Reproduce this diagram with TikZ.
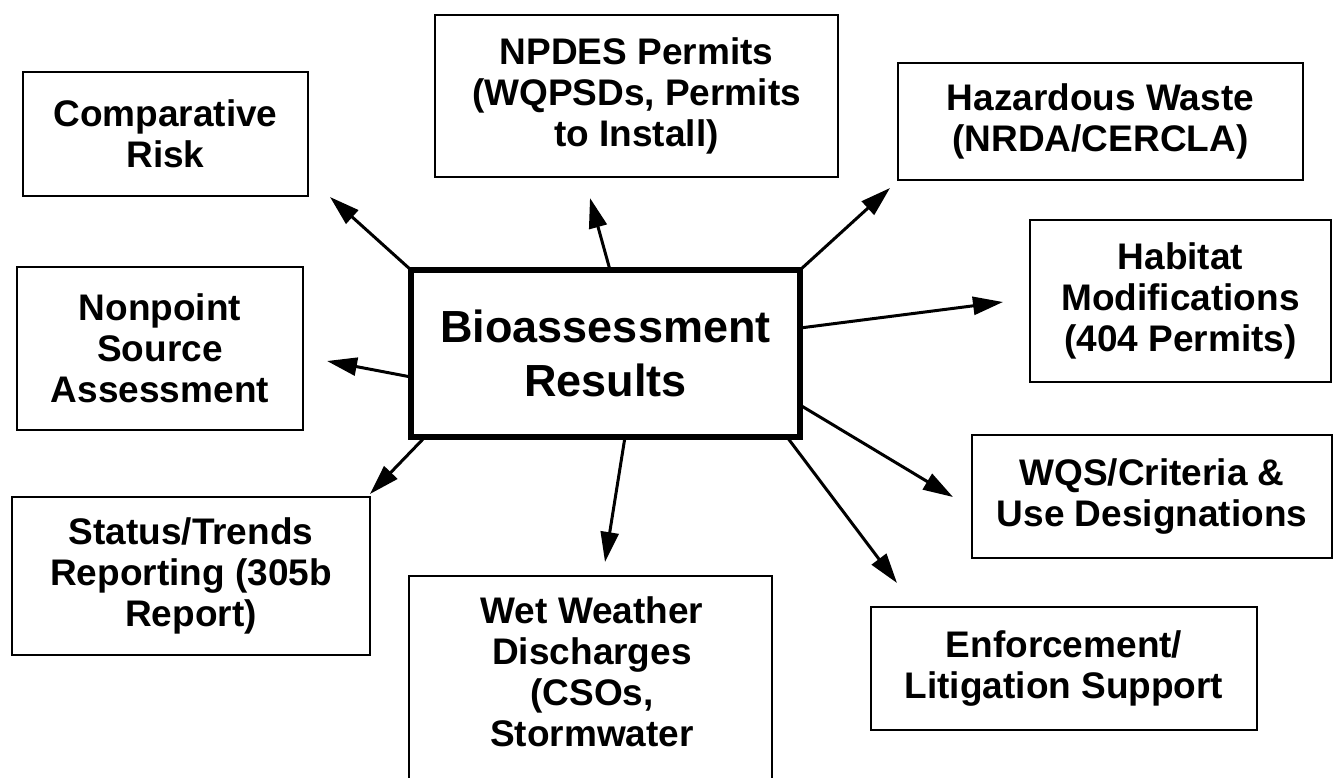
\documentclass[tikz,border=0pt]{standalone}
\usepackage{fontspec}
\setmainfont{Liberation Sans}
\usetikzlibrary{arrows.meta}
\begin{document}
\begin{tikzpicture}[x=0.5pt,y=-0.5pt,
  box/.style={draw, line width=1.3pt, align=center, font=\bfseries\fontsize{18.5}{20.5}\selectfont, inner sep=0pt, outer sep=0pt},
  plain/.style={align=center, font=\bfseries\fontsize{18.5}{20.5}\selectfont, inner sep=0pt},
  mainbox/.style={draw, line width=3.2pt, align=center, font=\bfseries\fontsize{22.5}{27}\selectfont, inner sep=0pt, outer sep=0pt},
  arr/.style={line width=1.5pt, -{Triangle[length=15pt,width=9pt]}}]
\useasboundingbox (0,0) rectangle (1334,777);
% boxes
\node[box, minimum width=142.5pt, minimum height=62pt] (cr) at (165.5,134) {Comparative\\Risk};
\node[box, minimum width=201.5pt, minimum height=81pt] (np) at (636.5,96) {NPDES Permits\\(WQPSDs, Permits\\to Install)};
\node[box, minimum width=202.5pt, minimum height=58.5pt] (hw) at (1100.5,121.5) {Hazardous Waste\\(NRDA/CERCLA)};
\node[box, minimum width=150.5pt, minimum height=81pt] (hm) at (1180.5,301) {Habitat\\Modifications\\(404 Permits)};
\node[box, minimum width=143pt, minimum height=81.5pt] (ns) at (160,348.5) {Nonpoint\\Source\\Assessment};
\node[mainbox, minimum width=194.5pt, minimum height=83.5pt] (br) at (605.5,353.5) {Bioassessment\\Results};
\node[box, minimum width=179pt, minimum height=79pt] (st) at (191,576) {Status/Trends\\Reporting (305b\\Report)};
\node[box, minimum width=181.5pt, minimum height=112pt] (ww) at (590.5,688) {};
\node[plain] (wwt) at (592,672) {Wet Weather\\Discharges\\(CSOs,\\Stormwater};
\node[box, minimum width=180pt, minimum height=61.5pt] (wq) at (1152,496.5) {WQS/Criteria \&\\Use Designations};
\node[box, minimum width=193pt, minimum height=61.5pt] (en) at (1064,668.5) {Enforcement/\\Litigation Support};
% arrow start points on the central box and free tips
\coordinate (s-np) at (610,270);
\coordinate (s-hm) at (800,328);
\coordinate (s-ns) at (411,377);
\coordinate (s-st) at (425,437);
\coordinate (s-ww) at (625,437);
\coordinate (s-wq) at (800,405);
\coordinate (s-en) at (787,437);
\coordinate (t-cr) at (330,197);
\coordinate (t-np) at (590,198);
\coordinate (t-hw) at (890,188);
\coordinate (t-hm) at (1003,302);
\coordinate (t-ns) at (327,361);
\coordinate (t-st) at (370,494);
\coordinate (t-ww) at (605,562);
\coordinate (t-wq) at (953,497);
\coordinate (t-en) at (897,583);
% arrows
\draw[arr] (br.north west) -- (t-cr);
\draw[arr] (s-np) -- (t-np);
\draw[arr] (br.north east) -- (t-hw);
\draw[arr] (s-hm) -- (t-hm);
\draw[arr] (s-ns) -- (t-ns);
\draw[arr] (s-st) -- (t-st);
\draw[arr] (s-ww) -- (t-ww);
\draw[arr] (s-wq) -- (t-wq);
\draw[arr] (s-en) -- (t-en);
\end{tikzpicture}
\end{document}
